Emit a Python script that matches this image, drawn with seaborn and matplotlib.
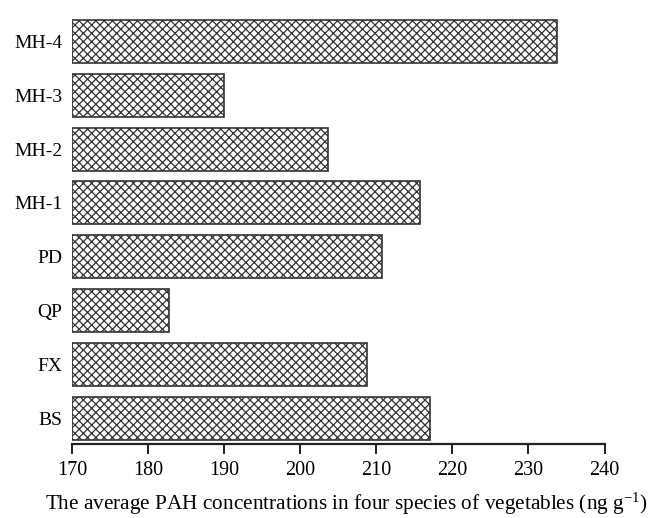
import matplotlib
matplotlib.use("Agg")
import matplotlib.pyplot as plt
import seaborn as sns
import pandas as pd

categories = ["MH-4", "MH-3", "MH-2", "MH-1", "PD", "QP", "FX", "BS"]
values = [233.8, 190.0, 203.7, 215.7, 210.8, 182.8, 208.8, 217.1]
xticks = [170, 180, 190, 200, 210, 220, 230, 240]

sns.set_theme(style="white")
plt.rcParams["font.family"] = ["Liberation Serif", "DejaVu Serif"]
plt.rcParams["mathtext.fontset"] = "custom"
plt.rcParams["mathtext.rm"] = "Liberation Serif"
plt.rcParams["mathtext.it"] = "Liberation Serif"
plt.rcParams["hatch.color"] = "#555555"
plt.rcParams["hatch.linewidth"] = 0.9

df = pd.DataFrame({"cat": categories, "val": values})

fig = plt.figure(figsize=(6.56, 5.18), dpi=100)
ax = fig.add_axes([0.1098, 0.1429, 0.8117, 0.829])

sns.barplot(data=df, x="val", y="cat", order=categories, color="white",
            edgecolor="#333333", linewidth=1.2, width=0.8, ax=ax, orient="h")
for p in ax.patches:
    p.set_hatch("xxxx")
    p.set_facecolor("white")

# bars start at 170 baseline
for p in ax.patches:
    w = p.get_width()
    p.set_x(170)
    p.set_width(w - 170)

ax.set_xlim(170, 240)
ax.set_ylim(7.48, -0.5)
ax.set_xticks(xticks)
ax.set_xticklabels([str(t) for t in xticks])
ax.set_ylabel("")
ax.set_xlabel(r"The average PAH concentrations in four species of vegetables (ng g$^{\mathrm{-1}}$)",
              fontsize=15.3, color="black")
ax.xaxis.set_label_coords(0.515, -0.11)

for s in ["top", "right", "left"]:
    ax.spines[s].set_visible(False)
ax.spines["bottom"].set_linewidth(1.6)
ax.spines["bottom"].set_color("#222222")
ax.tick_params(axis="x", direction="out", length=7, width=1.4, color="#222222",
               labelsize=14.5, pad=5, labelcolor="black", bottom=True)
ax.tick_params(axis="y", length=0, labelsize=14, pad=7, labelcolor="black")

fig.savefig("out.png", dpi=100, facecolor="white")
